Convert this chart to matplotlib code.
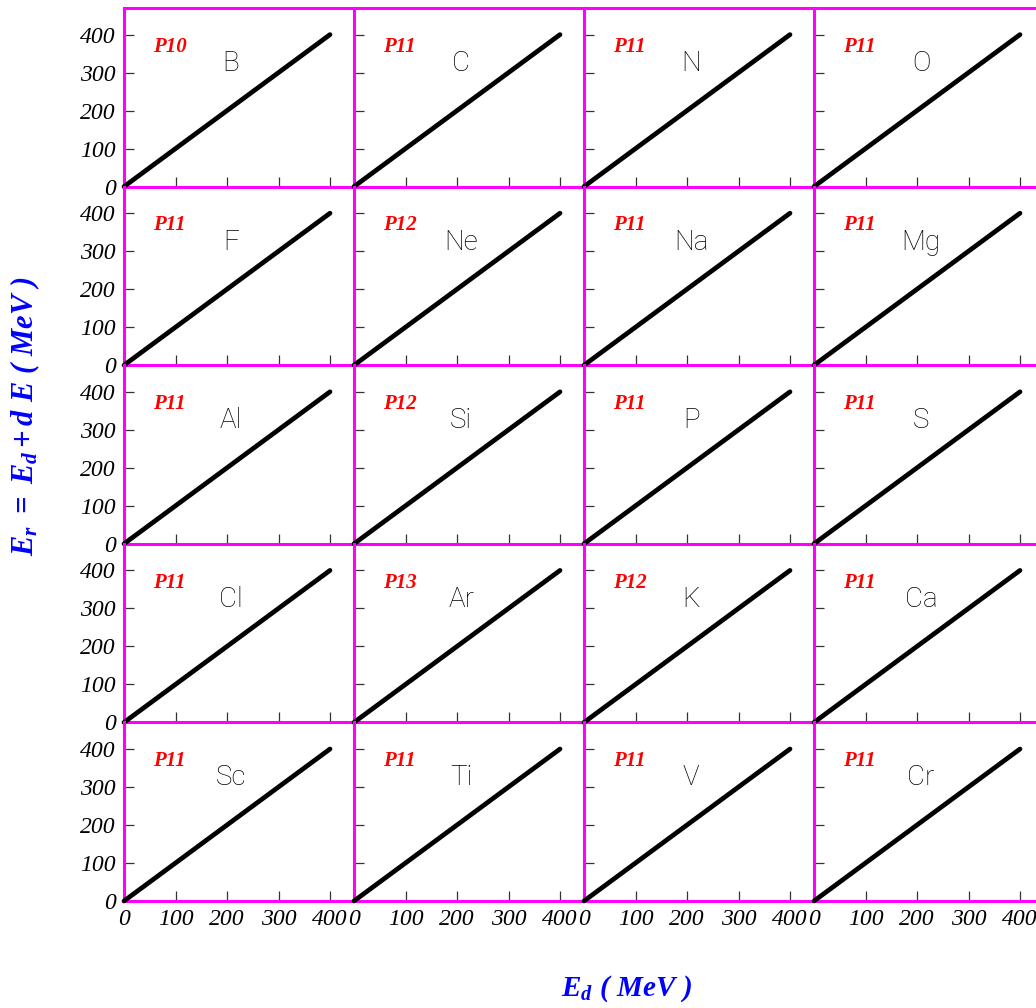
import matplotlib
matplotlib.use("Agg")
import matplotlib.pyplot as plt

plt.rcParams["font.family"] = ["Liberation Serif", "DejaVu Serif"]
plt.rcParams["font.style"] = "italic"
plt.rcParams["mathtext.fontset"] = "custom"
plt.rcParams["mathtext.rm"] = "Liberation Serif:bold:italic"
plt.rcParams["mathtext.it"] = "Liberation Serif:bold:italic"
plt.rcParams["mathtext.bf"] = "Liberation Serif:bold:italic"

# panel contents, row by row
elements = ["B", "C", "N", "O",
            "F", "Ne", "Na", "Mg",
            "Al", "Si", "P", "S",
            "Cl", "Ar", "K", "Ca",
            "Sc", "Ti", "V", "Cr"]
plabels = ["P10", "P11", "P11", "P11",
           "P11", "P12", "P11", "P11",
           "P11", "P12", "P11", "P11",
           "P11", "P13", "P12", "P11",
           "P11", "P11", "P11", "P11"]
ed = [0, 400]          # E_d (MeV)
er = [0, 400]          # E_r = E_d + dE (MeV)
xticks = [0, 100, 200, 300, 400]
yticks = [0, 100, 200, 300, 400]

nrows, ncols = 5, 4
W, H = 1036, 1008
left_px, top_px = 124, 8
pw, ph = 230, 178.6
magenta = "#ff00ff"

fig = plt.figure(figsize=(W / 100, H / 100), dpi=100)

for i in range(nrows):
    for j in range(ncols):
        k = i * ncols + j
        x0 = (left_px + j * pw) / W
        y0 = 1 - (top_px + (i + 1) * ph) / H
        ax = fig.add_axes([x0, y0, pw / W, ph / H])
        ax.set_facecolor("none")
        ax.plot(ed, er, color="black", lw=3.4, solid_capstyle="round",
                clip_on=False, zorder=5)
        ax.set_xlim(0, 446.6)
        ax.set_ylim(0, 470)
        ax.set_xticks(xticks)
        ax.set_yticks(yticks)
        ax.tick_params(direction="in", length=7.5, width=0.9, color="#333333",
                       labelsize=17, pad=6)
        if i != nrows - 1:
            ax.tick_params(labelbottom=False)
        if j != 0:
            ax.tick_params(labelleft=False)
        for s in ["left", "bottom", "top", "right"]:
            ax.spines[s].set_color(magenta)
            ax.spines[s].set_linewidth(2.2)
            ax.spines[s].set_zorder(4)
        ax.spines["right"].set_visible(False)
        if i != 0:
            ax.spines["top"].set_visible(False)
        ax.text(56, 368, plabels[k], color="red", fontsize=15,
                fontweight="bold", fontstyle="italic",
                ha="left", va="center")
        ax.text(208, 324, elements[k], color="black", fontsize=20,
                fontfamily=["Roboto", "DejaVu Sans"], fontweight="light",
                fontstyle="normal", ha="center", va="center")

fig.text(25 / W, 1 - 416 / H, r"$E_r\ =\ E_d + d\ E\ (\ MeV\ )$",
         rotation=90, ha="center", va="center", color="blue", fontsize=22)
fig.text(626 / W, 1 - 989 / H, r"$E_d\ (\ MeV\ )$",
         ha="center", va="center", color="blue", fontsize=21)

fig.savefig("out.png", dpi=100)
